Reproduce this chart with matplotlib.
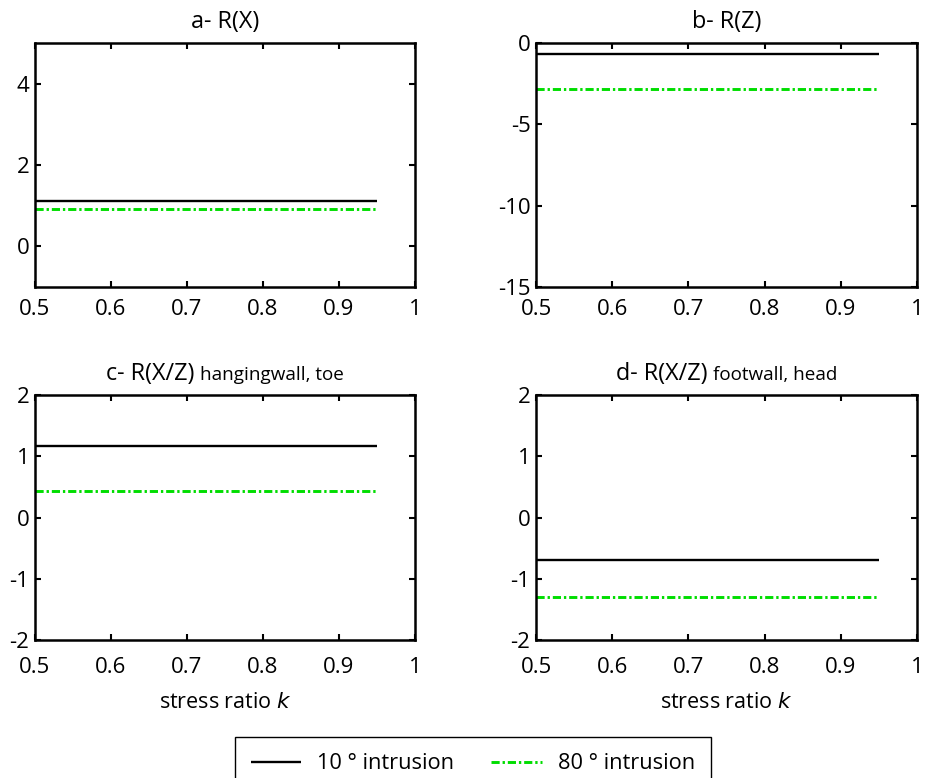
import matplotlib
matplotlib.use("Agg")
import matplotlib.pyplot as plt
import numpy as np

plt.rcParams['font.family'] = ['Open Sans', 'DejaVu Sans']

# ---- data ----
k = [0.5, 0.95]
series_names = ["10 ° intrusion", "80 ° intrusion"]
rx_10 = [1.12, 1.12]
rx_80 = [0.93, 0.93]
rz_10 = [-0.68, -0.68]
rz_80 = [-2.83, -2.83]
rxz_hw_10 = [1.16, 1.16]
rxz_hw_80 = [0.43, 0.43]
rxz_fw_10 = [-0.69, -0.69]
rxz_fw_80 = [-1.29, -1.29]

titles_main = ["a- R(X)", "b- R(Z)", "c- R(X/Z) ", "d- R(X/Z) "]
titles_small = ["", "", "hangingwall, toe", "footwall, head"]
ylims = [(-1, 5), (-15, 0), (-2, 2), (-2, 2)]
yticks = [[0, 2, 4], [-15, -10, -5, 0], [-2, -1, 0, 1, 2], [-2, -1, 0, 1, 2]]
xticks = [0.5, 0.6, 0.7, 0.8, 0.9, 1.0]
xticklabels = ["0.5", "0.6", "0.7", "0.8", "0.9", "1"]
xlabel = "stress ratio $\\mathit{k}$"

W, H = 927, 778
fig = plt.figure(figsize=(W / 100, H / 100), dpi=100)

def frac(l, t, r, b):
    return [l / W, 1 - b / H, (r - l) / W, (b - t) / H]

rects = [frac(35, 43, 415, 287), frac(536, 43, 917, 287),
         frac(35, 395, 415, 640), frac(536, 395, 917, 640)]
data = [(rx_10, rx_80), (rz_10, rz_80), (rxz_hw_10, rxz_hw_80), (rxz_fw_10, rxz_fw_80)]

green = '#00dd00'
axes = []
handles = None
for i in range(4):
    ax = fig.add_axes(rects[i])
    axes.append(ax)
    y10, y80 = data[i]
    l1, = ax.plot(k, y10, color='black', lw=1.7, label=series_names[0], solid_capstyle='butt')
    l2, = ax.plot(k, y80, color=green, lw=2.1, label=series_names[1])
    l2.set_dashes((2.8, 1.0, 0.8, 1.0))
    handles = [l1, l2]
    ax.set_xlim(0.5, 1.0)
    ax.set_ylim(*ylims[i])
    ax.set_xticks(xticks)
    ax.set_xticklabels(xticklabels)
    ax.set_yticks(yticks[i])
    ax.set_yticklabels([str(v) for v in yticks[i]])
    ax.tick_params(direction='in', length=4, width=1.5, top=True, right=True,
                   labelsize=16, colors='black')
    ax.tick_params(axis='y', pad=4)
    ax.tick_params(axis='x', pad=8.5 if i < 2 else 12)
    for s in ax.spines.values():
        s.set_linewidth(1.8)
    if i >= 2:
        ax.set_xlabel(xlabel, fontsize=15.5)
        ax.xaxis.label.set_va('center')
        ax.xaxis.set_label_coords(0.5, -(702 - 640) / 245)

# titles with small suffix
fig.canvas.draw()
renderer = fig.canvas.get_renderer()
for i, ax in enumerate(axes):
    yb = 1 + 15 / (rects[i][3] * H)
    t1 = ax.text(0.5, yb, titles_main[i], transform=ax.transAxes, ha='left',
                 va='baseline', fontsize=16.8)
    t2 = ax.text(0.5, yb, titles_small[i], transform=ax.transAxes, ha='left',
                 va='baseline', fontsize=13.6)
    w1 = t1.get_window_extent(renderer).width
    w2 = t2.get_window_extent(renderer).width if titles_small[i] else 0
    axw = rects[i][2] * W
    x0 = 0.5 - (w1 + w2) / 2 / axw
    t1.set_x(x0)
    t2.set_x(x0 + w1 / axw)

leg = fig.legend(handles, series_names, loc='upper center', ncol=2,
                 bbox_to_anchor=(473 / W, 1 - 737 / H), frameon=True,
                 fancybox=False, edgecolor='black', framealpha=1,
                 fontsize=15.7, handlelength=2.3, handletextpad=0.75,
                 columnspacing=1.7, borderpad=0.75, borderaxespad=0)
leg.get_frame().set_linewidth(1.0)

fig.savefig("out.png", dpi=100)
